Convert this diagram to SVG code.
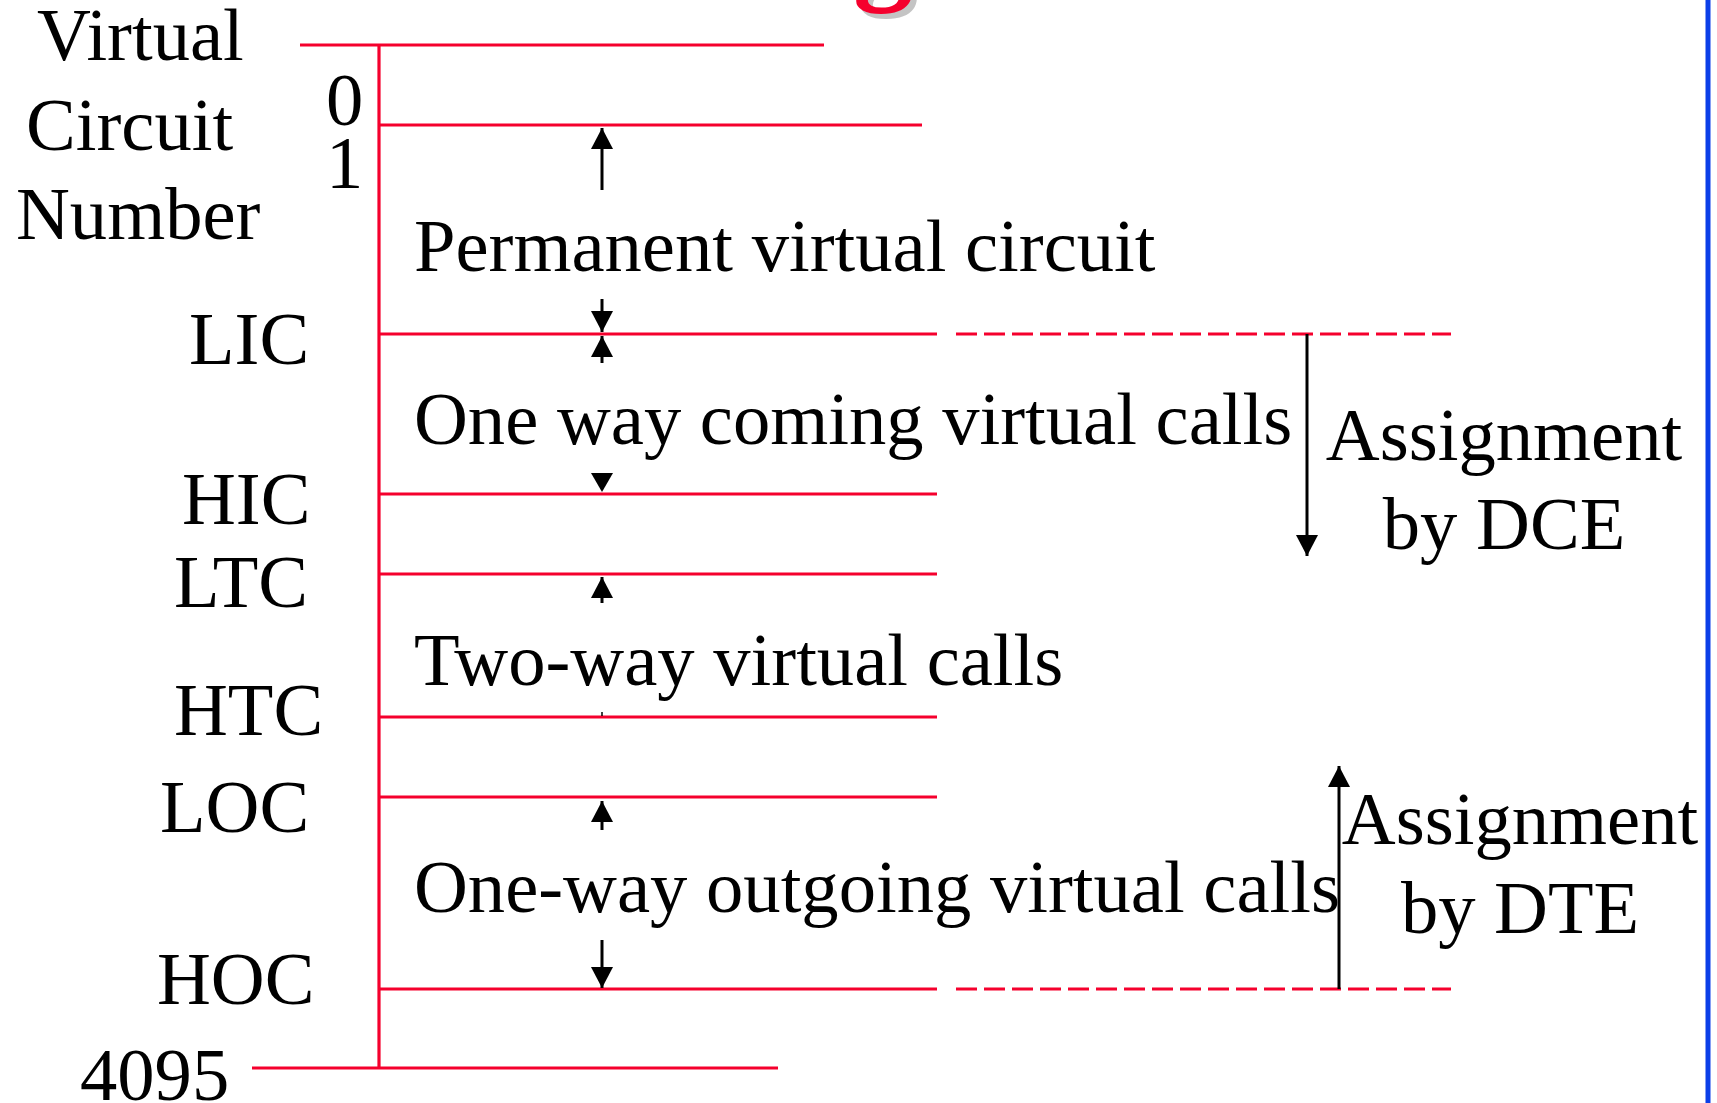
<svg xmlns="http://www.w3.org/2000/svg" width="1717" height="1103" viewBox="0 0 1717 1103">
<style>
.t{font-family:"Liberation Serif","Times New Roman",serif;font-size:74.6px;fill:#000}
.m{text-anchor:middle}
.r{stroke:#f5002d;stroke-width:3.2;fill:none}
.d{stroke:#f5002d;stroke-width:3.2;fill:none;stroke-dasharray:21 7}
.a{stroke:#000;stroke-width:3;fill:none;marker-end:url(#ah)}
.h{fill:#000}
</style>
<defs>
<marker id="ah" markerUnits="userSpaceOnUse" markerWidth="21" markerHeight="22" viewBox="0 0 21 22" refX="21" refY="11" orient="auto">
<path d="M0,0 L21,11 L0,22 z" fill="#000"/>
</marker>
</defs>
<rect x="0" y="0" width="1717" height="1103" fill="#fff"/>
<g id="title-fragment">
<text x="853" y="-13" font-family="Liberation Serif, serif" font-weight="bold" font-size="120" fill="#c4c4c4" transform="translate(5,5)">g</text>
<text x="853" y="-13" font-family="Liberation Serif, serif" font-weight="bold" font-size="120" fill="#f5002d">g</text>
</g>
<line x1="1708" y1="0" x2="1708" y2="1103" stroke="#0b3fe8" stroke-width="5"/>
<g id="axis-label">
<text class="t" x="37" y="60">Virtual</text>
<text class="t" x="26" y="150">Circuit</text>
<text class="t" x="16" y="239">Number</text>
</g>
<g id="scale">
<line class="r" x1="379" y1="45" x2="379" y2="1068"/>
<line class="r" x1="300" y1="45" x2="824" y2="45"/>
<line class="r" x1="379" y1="125" x2="922" y2="125"/>
<line class="r" x1="379" y1="334" x2="937" y2="334"/>
<line class="d" x1="956" y1="334" x2="1451" y2="334"/>
<line class="r" x1="379" y1="494" x2="937" y2="494"/>
<line class="r" x1="379" y1="574" x2="937" y2="574"/>
<line class="r" x1="379" y1="717" x2="937" y2="717"/>
<line class="r" x1="379" y1="797" x2="937" y2="797"/>
<line class="r" x1="379" y1="989" x2="937" y2="989"/>
<line class="d" x1="956" y1="989" x2="1451" y2="989"/>
<line class="r" x1="252" y1="1068" x2="778" y2="1068"/>
</g>
<g id="bounds">
<text class="t" x="326" y="125">0</text>
<text class="t" x="326" y="188">1</text>
<text class="t" x="189" y="364">LIC</text>
<text class="t" x="182" y="524">HIC</text>
<text class="t" x="174" y="607">LTC</text>
<text class="t" x="174" y="735">HTC</text>
<text class="t" x="160" y="832">LOC</text>
<text class="t" x="157" y="1004">HOC</text>
<text class="t" x="80" y="1100">4095</text>
</g>
<g id="pvc"><text class="t" x="414" y="271">Permanent virtual circuit</text></g>
<g id="incoming"><text class="t" x="414" y="444">One way coming virtual calls</text></g>
<g id="twoway"><text class="t" x="414" y="685">Two-way virtual calls</text></g>
<g id="outgoing"><text class="t" x="414" y="912">One-way outgoing virtual calls</text></g>
<g id="dce">
<text class="t m" x="1504" y="460">Assignment</text>
<text class="t m" x="1504" y="549">by DCE</text>
</g>
<g id="dte">
<text class="t m" x="1520" y="844">Assignment</text>
<text class="t m" x="1520" y="933">by DTE</text>
</g>
<g id="connectors">
<line class="a" x1="602" y1="190" x2="602" y2="128"/>
<line class="a" x1="602" y1="299" x2="602" y2="332"/>
<line class="a" x1="602" y1="363" x2="602" y2="336"/>
<path class="h" d="M591,473 L613,473 L602,492 z"/>
<line class="a" x1="602" y1="603" x2="602" y2="577"/>
<line x1="602" y1="712" x2="602" y2="716" stroke="#000" stroke-width="1.5"/>
<line class="a" x1="602" y1="830" x2="602" y2="801"/>
<line class="a" x1="602" y1="940" x2="602" y2="988"/>
<line class="a" x1="1307" y1="334" x2="1307" y2="556"/>
<line class="a" x1="1339" y1="989" x2="1339" y2="766"/>
</g>
</svg>
